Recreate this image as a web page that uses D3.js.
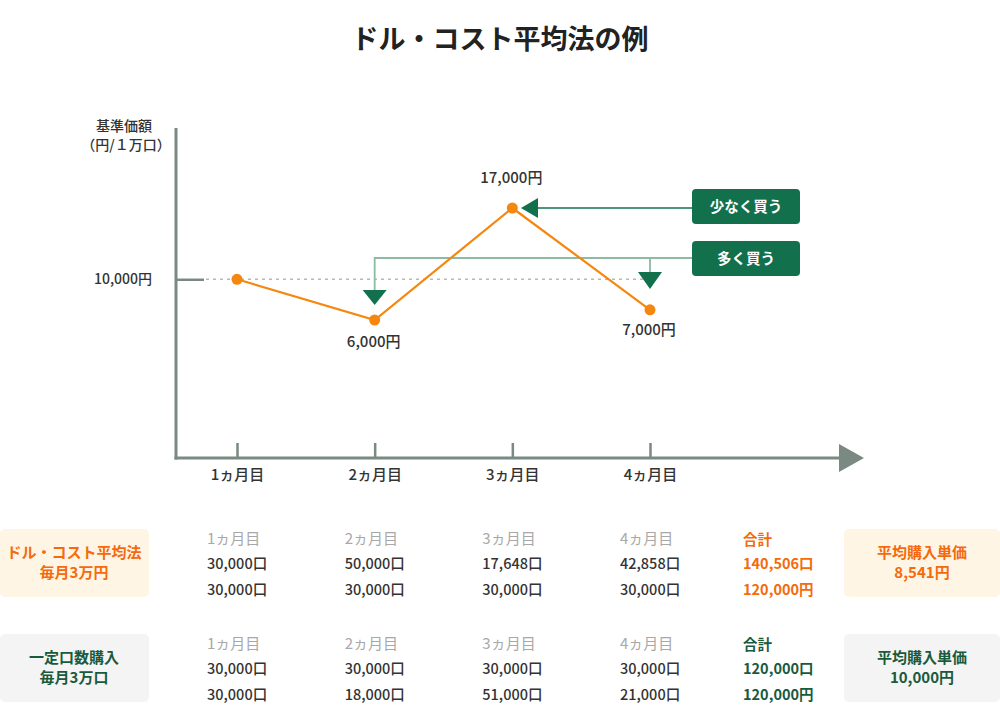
<!DOCTYPE html>
<html><head><meta charset="utf-8">
<script src="https://cdn.jsdelivr.net/npm/d3@7/dist/d3.min.js"></script>
<style>
body{margin:0;background:#fff;}
svg{display:block;font-family:"Noto Sans CJK JP","Noto Sans",sans-serif;}
</style></head><body>
<svg id="c" width="1000" height="715"></svg>
<script>
const months = ["1ヵ月目","2ヵ月目","3ヵ月目","4ヵ月目"];
const prices = [10000, 6000, 17000, 7000];
const priceLabels = ["", "6,000円", "17,000円", "7,000円"];
const baseTick = [10000];
const dcaUnits = [30000, 50000, 17648, 42858];
const dcaCost = [30000, 30000, 30000, 30000];
const fixedUnits = [30000, 30000, 30000, 30000];
const fixedCost = [30000, 18000, 51000, 21000];
const dcaTotals = ["140,506口", "120,000円"];
const fixedTotals = ["120,000口", "120,000円"];
const dcaAvg = "8,541円";
const fixedAvg = "10,000円";

const svg = d3.select("#c");
const AX = "#7a8981", ORANGE = "#f5870f", DG = "#12704c", LG = "#8cbaa2";
const fmt = d3.format(",");

const x = d3.scalePoint().domain(months).range([237, 650]);
const y = d3.scaleLinear().domain([6000, 17000]).range([320, 208]);

// title
svg.append("text").attr("x", 500).attr("y", 40).attr("dy", "0.35em").attr("text-anchor", "middle")
  .attr("font-size", 27).attr("font-weight", 700).attr("fill", "#222").text("ドル・コスト平均法の例");

// y title
svg.append("text").attr("x", 124).attr("y", 126).attr("dy", "0.35em").attr("text-anchor", "middle")
  .attr("font-size", 14).attr("font-weight", 500).attr("fill", "#333").text("基準価額");
svg.append("text").attr("x", 126).attr("y", 145).attr("dy", "0.35em").attr("text-anchor", "middle")
  .attr("font-size", 14).attr("font-weight", 500).attr("fill", "#333").text("（円/１万口）");

// dotted baseline
svg.append("line").attr("x1", 206).attr("x2", 650).attr("y1", y(10000)).attr("y2", y(10000))
  .attr("stroke", "#b8b8b8").attr("stroke-width", 1.5).attr("stroke-dasharray", "3,4");

// axes
const gx = svg.append("g").attr("transform", "translate(0,458)")
  .call(d3.axisBottom(x).tickSize(-15).tickPadding(11));
gx.select(".domain").remove();
gx.selectAll(".tick line").attr("stroke", AX).attr("stroke-width", 2.5);
gx.selectAll(".tick text").attr("font-size", 15).attr("font-weight", 500).attr("fill", "#333")
  .attr("font-family", "'Noto Sans CJK JP',sans-serif");

const gy = svg.append("g").attr("transform", "translate(176,0)")
  .call(d3.axisLeft(y).tickValues(baseTick).tickSize(-28).tickPadding(24).tickFormat(d => fmt(d) + "円"));
gy.select(".domain").remove();
gy.selectAll(".tick line").attr("stroke", AX).attr("stroke-width", 2.5);
gy.selectAll(".tick text").attr("font-size", 14).attr("font-weight", 500).attr("fill", "#333")
  .attr("font-family", "'Noto Sans CJK JP',sans-serif");

svg.append("line").attr("x1", 176).attr("x2", 176).attr("y1", 128).attr("y2", 459.5)
  .attr("stroke", AX).attr("stroke-width", 3);
svg.append("line").attr("x1", 174.5).attr("x2", 842).attr("y1", 458).attr("y2", 458)
  .attr("stroke", AX).attr("stroke-width", 3);
svg.append("path").attr("d", "M839,444 L864,458 L839,472 Z").attr("fill", AX);

// annotations
const yMany = 258;
svg.append("path").attr("d", `M${x(months[1])},290 V${yMany} H692 M${x(months[3])},${yMany} V272`)
  .attr("fill", "none").attr("stroke", LG).attr("stroke-width", 1.8);
svg.append("path").attr("d", `M${x(months[1]) - 12},290 L${x(months[1]) + 12},290 L${x(months[1])},305 Z`).attr("fill", DG);
svg.append("path").attr("d", `M${x(months[3]) - 12},272 L${x(months[3]) + 12},272 L${x(months[3])},289 Z`).attr("fill", DG);
svg.append("line").attr("x1", 537).attr("x2", 692).attr("y1", 208).attr("y2", 208).attr("stroke", DG).attr("stroke-width", 1.5);
svg.append("path").attr("d", "M521,208 L538,198 L538,218 Z").attr("fill", DG);

[["少なく買う", 189], ["多く買う", 241]].forEach(([t, yy]) => {
  svg.append("rect").attr("x", 692).attr("y", yy).attr("width", 108).attr("height", 35).attr("rx", 4).attr("fill", DG);
  svg.append("text").attr("x", 746).attr("y", yy + 17.5).attr("dy", "0.35em").attr("text-anchor", "middle")
    .attr("font-size", 14.5).attr("font-weight", 700).attr("fill", "#fff").text(t);
});

// price line
const pts = months.map((m, i) => [x(m), y(prices[i])]);
svg.append("path").attr("d", d3.line()(pts)).attr("fill", "none").attr("stroke", ORANGE).attr("stroke-width", 2.2);
svg.selectAll("circle.p").data(pts).join("circle").attr("cx", d => d[0]).attr("cy", d => d[1]).attr("r", 5.5).attr("fill", ORANGE);

const labOff = [0, 22, -30, 20];
months.forEach((m, i) => {
  if (!priceLabels[i]) return;
  svg.append("text").attr("x", x(m) - 1).attr("y", y(prices[i]) + labOff[i]).attr("dy", "0.35em").attr("text-anchor", "middle")
    .attr("font-size", 15).attr("font-weight", 500).attr("fill", "#333").text(priceLabels[i]);
});

// tables
function table(top, bg, col, label, units, cost, totals, avg) {
  svg.append("rect").attr("x", 0).attr("y", top).attr("width", 149).attr("height", 68).attr("rx", 5).attr("fill", bg);
  svg.append("rect").attr("x", 844).attr("y", top).attr("width", 156).attr("height", 68).attr("rx", 5).attr("fill", bg);
  label.forEach((t, i) => svg.append("text").attr("x", 74).attr("y", top + 24 + i * 20).attr("dy", "0.35em")
    .attr("text-anchor", "middle").attr("font-size", 15).attr("font-weight", 700).attr("fill", col).text(t));
  ["平均購入単価", avg].forEach((t, i) => svg.append("text").attr("x", 922).attr("y", top + 24 + i * 20).attr("dy", "0.35em")
    .attr("text-anchor", "middle").attr("font-size", 15).attr("font-weight", 700).attr("fill", col).text(t));
  const r1 = top + 10, r2 = top + 35, r3 = top + 61;
  months.forEach((m, i) => {
    const lx = x(m) - 30;
    svg.append("text").attr("x", lx).attr("y", r1).attr("dy", "0.35em").attr("font-size", 15).attr("fill", "#a8a8a8").text(m);
    svg.append("text").attr("x", lx).attr("y", r2).attr("dy", "0.35em").attr("font-size", 14.5).attr("font-weight", 500).attr("fill", "#333").text(fmt(units[i]) + "口");
    svg.append("text").attr("x", lx).attr("y", r3).attr("dy", "0.35em").attr("font-size", 14.5).attr("font-weight", 500).attr("fill", "#333").text(fmt(cost[i]) + "口");
  });
  const tx = x(months[3]) + 93;
  svg.append("text").attr("x", tx).attr("y", r1 + 1).attr("dy", "0.35em").attr("font-size", 14.5).attr("font-weight", 700).attr("fill", col).text("合計");
  svg.append("text").attr("x", tx).attr("y", r2).attr("dy", "0.35em").attr("font-size", 14.5).attr("font-weight", 700).attr("fill", col).text(totals[0]);
  svg.append("text").attr("x", tx).attr("y", r3).attr("dy", "0.35em").attr("font-size", 14.5).attr("font-weight", 700).attr("fill", col).text(totals[1]);
}
table(529, "#fff5e5", "#f46a0c", ["ドル・コスト平均法", "毎月3万円"], dcaUnits, dcaCost, dcaTotals, dcaAvg);
table(634, "#f4f4f4", "#1a5a3c", ["一定口数購入", "毎月3万口"], fixedUnits, fixedCost, fixedTotals, fixedAvg);
</script>
</body></html>
